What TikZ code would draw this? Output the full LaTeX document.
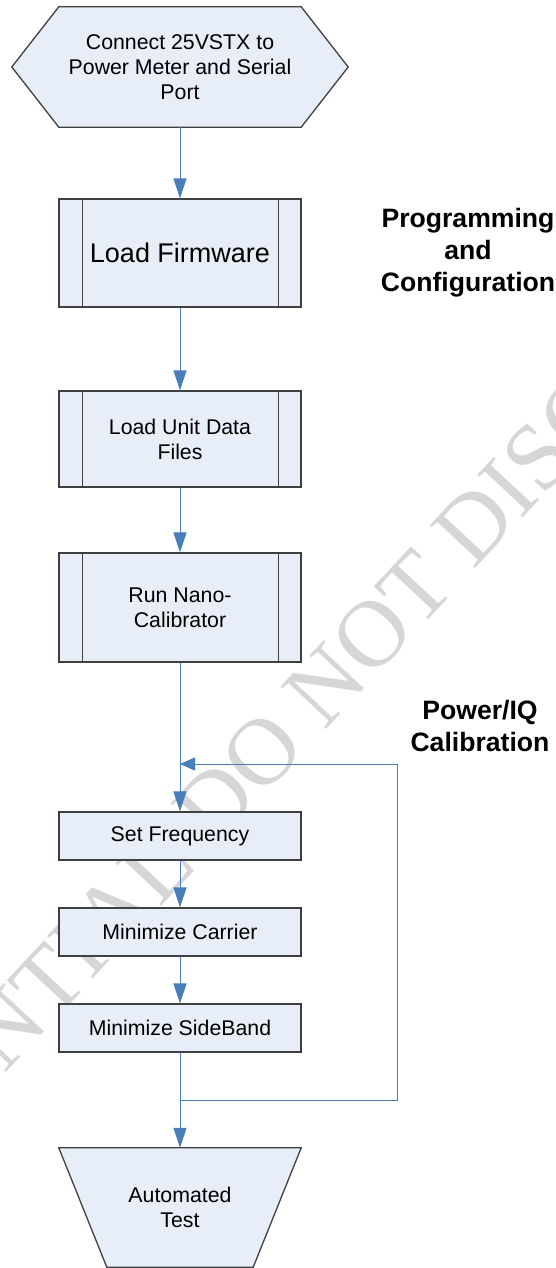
\documentclass[tikz,border=0pt]{standalone}
\usepackage{fontspec}
\setmainfont{Liberation Sans}
\newfontfamily\markfont{Liberation Serif}
\usetikzlibrary{arrows.meta,positioning,backgrounds}

\definecolor{boxfill}{RGB}{232,238,247}
\definecolor{boxline}{RGB}{64,64,64}
\definecolor{flowblue}{RGB}{74,126,187}
\definecolor{markgray}{RGB}{214,214,214}

\begin{document}
\begin{tikzpicture}[x=1pt,y=-1pt,
  >={Triangle[width=13pt,length=20pt]},
  every node/.style={font=\fontsize{21.3}{25}\selectfont},
  box node/.style={rectangle,fill=boxfill,draw=boxline,line width=1.3pt,
    minimum width=242pt,inner sep=0pt,align=center},
  sub node/.style={box node,path picture={
      \draw[boxline,line width=1pt] ([xshift=23pt]path picture bounding box.north west)
        -- ([xshift=23pt]path picture bounding box.south west);
      \draw[boxline,line width=1pt] ([xshift=-23pt]path picture bounding box.north east)
        -- ([xshift=-23pt]path picture bounding box.south east);}},
  shape node/.style={rectangle,minimum width=242pt,inner sep=0pt,align=center},
  flow/.style={->,color=flowblue,line width=1pt},
  title node/.style={font=\fontsize{26.6}{32}\selectfont\bfseries,align=center}]

  \useasboundingbox (0,0) rectangle (556,1268);

  % watermark
  \begin{scope}
    \clip (0,0) rectangle (556,1268);
    \node[font=\markfont\fontsize{95}{95}\selectfont,text=markgray,rotate=47] (mark)
      at (231,786) {CONFIDENTIAL DO NOT DISCLOSE};
  \end{scope}

  \node[shape node,minimum height=120pt] (hex) at (180,67) {Connect 25VSTX to\\Power Meter and Serial\\Port};
  \node[sub node,minimum height=108pt,font=\fontsize{27}{32}\selectfont] (firmware) [below of=hex,node distance=186pt] {Load Firmware};
  \node[sub node,minimum height=96pt] (unitdata) [below of=firmware,node distance=186pt] {Load Unit Data\\Files};
  \node[sub node,minimum height=109pt] (nanocal) [below of=unitdata,node distance=168.5pt] {Run Nano-\\Calibrator};
  \node[box node,minimum height=48pt] (setfreq) [below of=nanocal,node distance=228.5pt] {Set Frequency};
  \node[box node,minimum height=48pt] (carrier) [below of=setfreq,node distance=96pt] {Minimize Carrier};
  \node[box node,minimum height=48pt] (sideband) [below of=carrier,node distance=96pt] {Minimize SideBand};
  \node[shape node,minimum height=119pt] (autotest) [below of=sideband,node distance=179.5pt] {Automated\\Test};

  \node[title node] (progtitle) at (468,253) {Programming\\and\\Configuration};
  \node[title node] (caltitle) at (480,726) {Power/IQ\\Calibration};

  \begin{scope}[on background layer]
    \draw[boxline,fill=boxfill,line width=1.3pt] (hex.north west) -- (hex.north east)
      -- ([xshift=47pt]hex.east) -- (hex.south east) -- (hex.south west)
      -- ([xshift=-47pt]hex.west) -- cycle;
    \draw[boxline,fill=boxfill,line width=1.3pt] (autotest.north west) -- (autotest.north east)
      -- ([xshift=-48pt]autotest.south east) -- ([xshift=48pt]autotest.south west) -- cycle;
  \end{scope}

  \coordinate (loopin) at (180,764);
  \coordinate (loopout) at (180,1100);

  \path[flow]
    (hex) edge (firmware)
    (firmware) edge (unitdata)
    (unitdata) edge (nanocal)
    (nanocal) edge (setfreq)
    (setfreq) edge (carrier)
    (carrier) edge (sideband)
    (sideband) edge (autotest);
  \draw[flow,-{Triangle[width=13pt,length=15pt]}] (loopout) -- ++(217,0) |- (loopin);
\end{tikzpicture}
\end{document}
